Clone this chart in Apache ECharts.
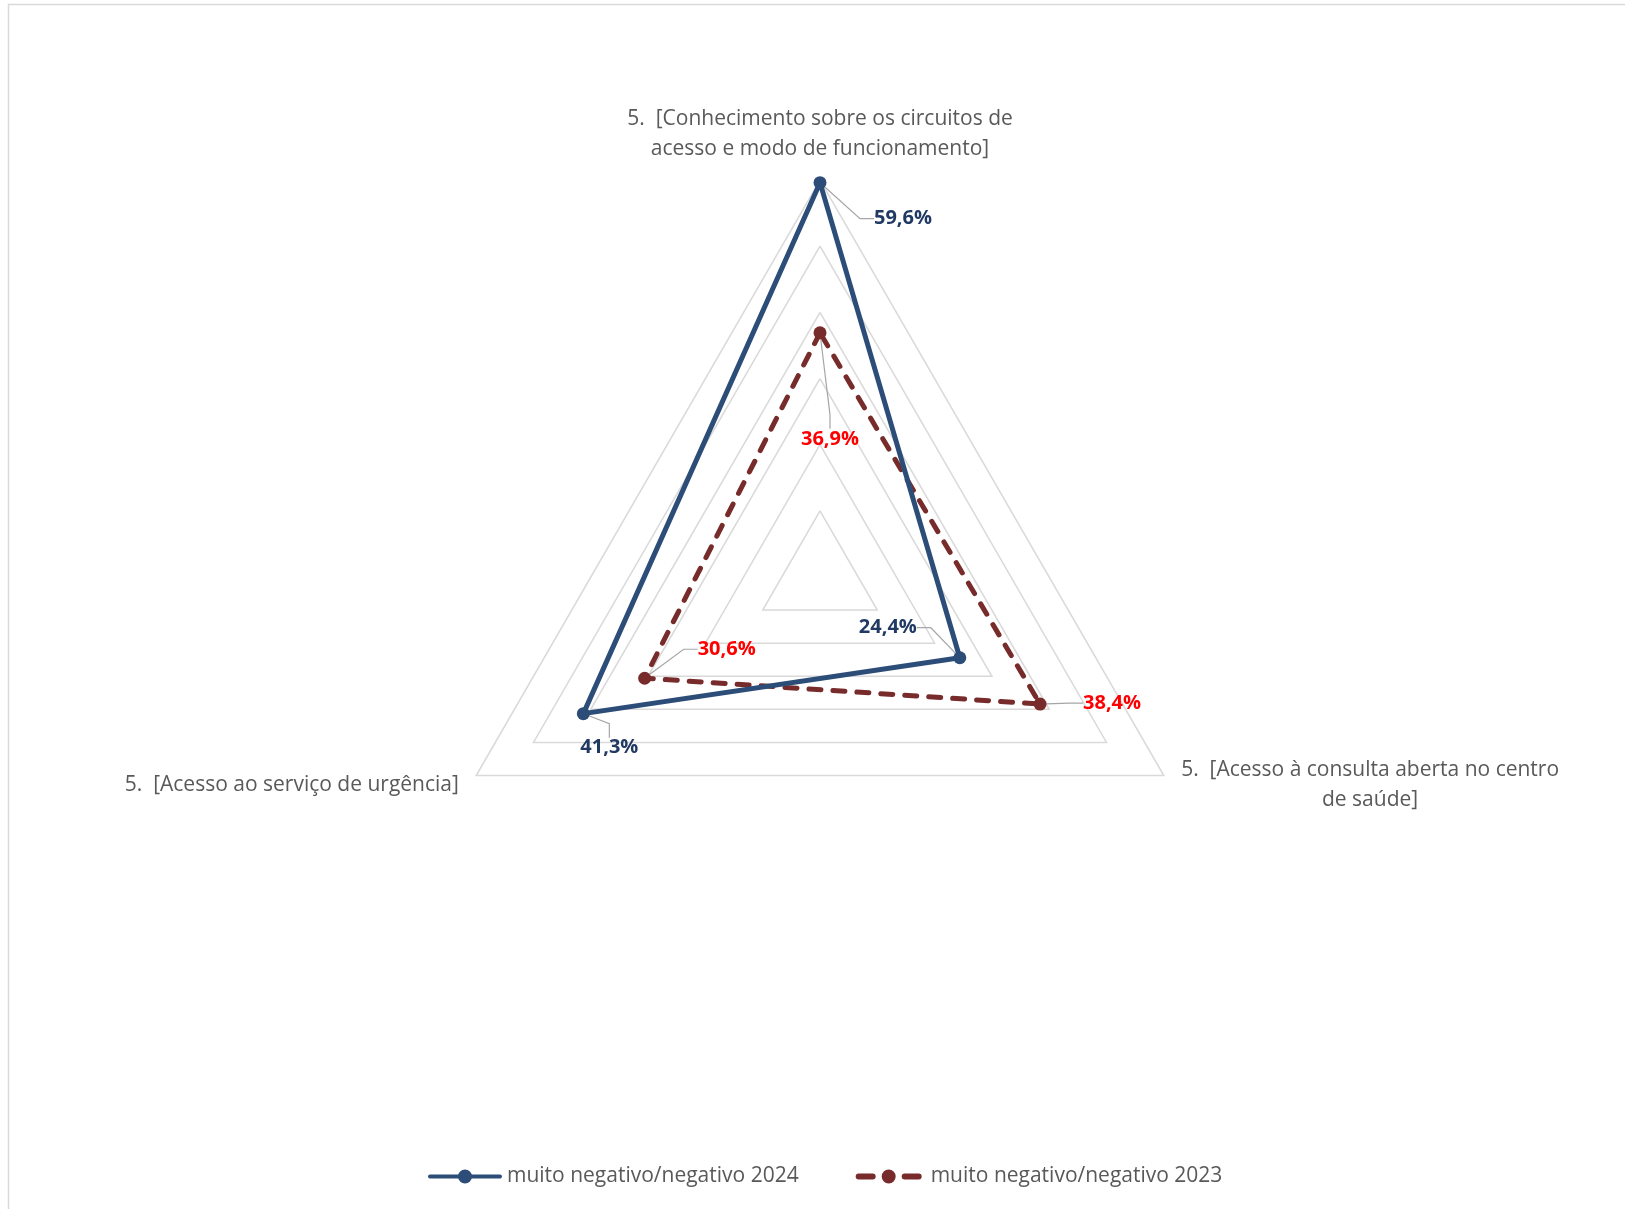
<!DOCTYPE html>
<html>
<head>
<meta charset="utf-8">
<script src="https://cdn.jsdelivr.net/npm/echarts@6/dist/echarts.min.js"></script>
<style>
  html, body { margin: 0; padding: 0; background: #ffffff; }
  #chart { width: 1625px; height: 1209px; }
</style>
</head>
<body>
<div id="chart"></div>
<script>
// Radar axes (order: top, lower-left, lower-right)
const categories = [
  '5.  [Conhecimento sobre os circuitos de\nacesso e modo de funcionamento]',
  '5.  [Acesso ao serviço de urgência]',
  '5.  [Acesso à consulta aberta no centro\nde saúde]'
];
const seriesNames = ['muito negativo/negativo 2024', 'muito negativo/negativo 2023'];
const values2024 = [59.6, 41.3, 24.4];
const values2023 = [36.9, 30.6, 38.4];
const axisMin = 0;
const axisMax = 60;
const ringCount = 6;

// Label placement relative to each point [dx, dy], per axis
const labelShift2024 = [[83, 36], [26, 34], [-72, -30]];
const labelShift2023 = [[10, 106], [82, -29], [72, -1]];

const FONT = '"Open Sans", Lato, sans-serif';
const BLUE = '#2C4D78';
const BLUE_TEXT = '#203A63';
const DARK_RED = '#772B2A';
const RED_TEXT = '#FF0000';
const GREY_TEXT = '#595959';

const fmtPct = v => v.toFixed(1).replace('.', ',') + '%';

function shiftLayout(values, shifts) {
  return function (p) {
    const i = values.findIndex(v => fmtPct(v) === p.text);
    if (i < 0) return {};
    return { dx: shifts[i][0], dy: shifts[i][1] };
  };
}

const ICON_2024 = 'path://M2,5L72,5A2,2 0 0 1 72,9L2,9A2,2 0 0 1 2,5Z' +
  'M30,7A7,7 0 1 1 44,7A7,7 0 1 1 30,7Z';
const ICON_2023 = 'path://M3,4L17,4A3,3 0 0 1 17,10L3,10A3,3 0 0 1 3,4Z' +
  'M26,7A7,7 0 1 1 40,7A7,7 0 1 1 26,7Z' +
  'M49,4L63,4A3,3 0 0 1 63,10L49,10A3,3 0 0 1 49,4Z';

const chart = echarts.init(document.getElementById('chart'), null, { renderer: 'canvas' });

const valueLabel = color => ({
  show: true,
  position: 'inside',
  formatter: p => fmtPct(p.value),
  color: color,
  fontFamily: FONT,
  fontWeight: 'bold',
  fontSize: 20
});
const guideLine = { show: true, length2: 14, lineStyle: { color: '#a6a6a6', width: 1.2 } };

const option = {
  animation: false,
  backgroundColor: '#ffffff',
  graphic: [{
    type: 'rect',
    silent: true,
    shape: { x: 8.5, y: 4.5, width: 1700, height: 1300 },
    style: { fill: 'none', stroke: '#d9d9d9', lineWidth: 1.5 }
  }],
  legend: {
    left: 423,
    top: 1161,
    itemWidth: 74,
    itemHeight: 14,
    itemGap: 57,
    itemStyle: { borderWidth: 0 },
    textStyle: { color: GREY_TEXT, fontFamily: FONT, fontSize: 21 },
    data: [
      { name: seriesNames[0], icon: ICON_2024 },
      { name: seriesNames[1], icon: ICON_2023 }
    ]
  },
  radar: {
    center: [820, 577],
    radius: 397,
    startAngle: 90,
    shape: 'polygon',
    splitNumber: ringCount,
    nameGap: 19,
    indicator: categories.map((name, i) => ({
      name: name,
      min: axisMin,
      max: axisMax,
      nameGap: i === 0 ? 46 : 20
    })),
    axisName: {
      color: GREY_TEXT,
      fontFamily: FONT,
      fontSize: 21,
      lineHeight: 30,
      verticalAlign: 'middle',
      formatter: function (name) {
        return name.split('\n').map(s => '{c|' + s + '}').join('\n');
      },
      rich: {
        c: { align: 'center', color: GREY_TEXT, fontFamily: FONT, fontSize: 21, lineHeight: 30 }
      }
    },
    axisLine: { show: false },
    axisTick: { show: false },
    axisLabel: { show: false },
    splitLine: { lineStyle: { color: '#d9d9d9', width: 1.5 } },
    splitArea: { show: false }
  },
  series: [
    {
      type: 'radar',
      name: seriesNames[0],
      z: 3,
      symbol: 'circle',
      symbolSize: 13,
      lineStyle: { color: BLUE, width: 5, cap: 'round', join: 'round' },
      itemStyle: { color: BLUE },
      label: valueLabel(BLUE_TEXT),
      labelLine: guideLine,
      labelLayout: shiftLayout(values2024, labelShift2024),
      data: [{ name: seriesNames[0], value: values2024 }]
    },
    {
      type: 'radar',
      name: seriesNames[1],
      z: 2,
      symbol: 'circle',
      symbolSize: 13,
      lineStyle: { color: DARK_RED, width: 5, type: [12, 12], cap: 'round', join: 'round' },
      itemStyle: { color: DARK_RED },
      label: valueLabel(RED_TEXT),
      labelLine: guideLine,
      labelLayout: shiftLayout(values2023, labelShift2023),
      data: [{ name: seriesNames[1], value: values2023 }]
    }
  ]
};

chart.setOption(option);
</script>
</body>
</html>
